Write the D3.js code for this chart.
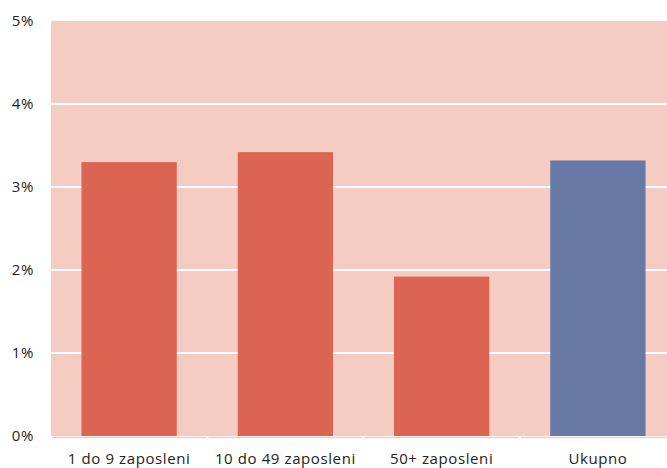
<!DOCTYPE html>
<html><head><meta charset="utf-8">
<script src="https://cdn.jsdelivr.net/npm/d3@7"></script>
<style>body{margin:0;background:#fff}svg{display:block}</style>
</head><body><svg id="c" width="667" height="468"></svg>
<script>
const categories = ["1 do 9 zaposleni", "10 do 49 zaposleni", "50+ zaposleni", "Ukupno"];
const values = [3.30, 3.42, 1.92, 3.32];
const barColors = ["#DC6453", "#DC6453", "#DC6453", "#6779A5"];
const yTicks = [0, 1, 2, 3, 4, 5];

const svg = d3.select("#c");
const m = {left: 51, top: 21, bottom: 436};
const plotRight = 676;
const x = d3.scaleBand().domain(categories).range([m.left, plotRight]).paddingInner(0.39).paddingOuter(0.195);
const y = d3.scaleLinear().domain([0, 5]).range([m.bottom, m.top]);
const font = "'Open Sans', sans-serif";

svg.append("rect").attr("x", m.left).attr("y", y(5)).attr("width", 667 - m.left).attr("height", y(0) - y(5)).attr("fill", "#F4CCC2");

svg.append("g").selectAll("line").data(yTicks.filter(d => d > 0 && d < 5)).join("line")
  .attr("x1", m.left).attr("x2", 667).attr("y1", d => y(d)).attr("y2", d => y(d))
  .attr("stroke", "#fff").attr("stroke-width", 2);

const yAxis = d3.axisLeft(y).tickValues(yTicks).tickFormat(d => d + "%").tickSize(0).tickPadding(17);
const ya = svg.append("g").attr("transform", `translate(${m.left},0)`).call(yAxis);
ya.select(".domain").remove();
ya.selectAll("text").attr("font-family", font).attr("font-size", 15).attr("letter-spacing", 0.6).attr("fill", "#222");

svg.append("g").selectAll("rect").data(values).join("rect")
  .attr("x", (d, i) => x(categories[i])).attr("width", x.bandwidth())
  .attr("y", d => y(d)).attr("height", d => y(0) - y(d))
  .attr("fill", (d, i) => barColors[i]);

// axis line segments per category
const step = x.step();
svg.append("g").selectAll("line").data(categories).join("line")
  .attr("x1", d => x(d) - step * 0.195 + 1).attr("x2", d => x(d) + x.bandwidth() + step * 0.195 - 1)
  .attr("y1", 437.5).attr("y2", 437.5).attr("stroke", "#F2CDC4").attr("stroke-width", 1.5);

const xAxis = d3.axisBottom(x).tickSize(0).tickPadding(0);
const xa = svg.append("g").attr("transform", `translate(0,453)`).call(xAxis);
xa.select(".domain").remove();
xa.selectAll("text").attr("font-family", font).attr("font-size", 15).attr("letter-spacing", 0.6).attr("fill", "#222").attr("dy", "0.71em");
</script></body></html>
